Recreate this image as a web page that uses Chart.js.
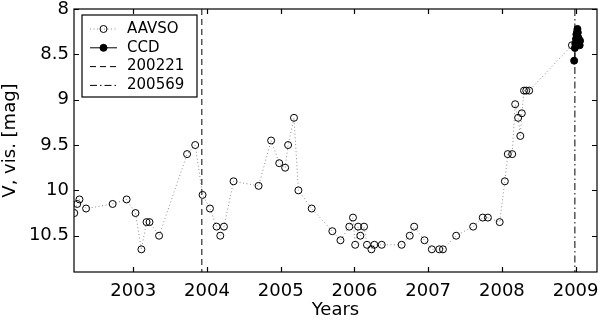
<!DOCTYPE html>
<html>
<head>
<meta charset="utf-8">
<script src="https://cdn.jsdelivr.net/npm/chart.js@4.4.1/dist/chart.umd.min.js"></script>
<style>
    html, body { margin: 0; padding: 0; background: #fff; }
    #wrap { width: 602px; height: 334px; }
</style>
</head>
<body>
<div id="wrap"><canvas id="lightcurve"></canvas></div>
<script>
// AAVSO visual estimates (years, V mag)
const aavsoYears = [2002.20, 2002.24, 2002.27, 2002.36, 2002.72, 2002.91, 2003.03, 2003.11, 2003.18, 2003.22, 2003.35, 2003.73, 2003.84, 2003.94,
    2004.04, 2004.13, 2004.18, 2004.23, 2004.36, 2004.70, 2004.87, 2004.98, 2005.06, 2005.10, 2005.18, 2005.24, 2005.42, 2005.70, 2005.81,
    2005.93, 2005.98, 2006.01, 2006.05, 2006.08, 2006.13, 2006.17, 2006.23, 2006.27, 2006.37, 2006.64, 2006.75, 2006.81, 2006.95,
    2007.05, 2007.15, 2007.20, 2007.38, 2007.61, 2007.74, 2007.81, 2007.97, 2008.04, 2008.08, 2008.14, 2008.18, 2008.22, 2008.25,
    2008.27, 2008.30, 2008.33, 2008.37, 2008.95];
const aavsoMags = [10.25, 10.15, 10.10, 10.20, 10.15, 10.10, 10.25, 10.65, 10.35, 10.35, 10.50, 9.60, 9.50, 10.05,
    10.20, 10.40, 10.50, 10.40, 9.90, 9.95, 9.45, 9.70, 9.75, 9.50, 9.20, 10.00, 10.20, 10.45, 10.55,
    10.40, 10.30, 10.60, 10.40, 10.50, 10.40, 10.60, 10.65, 10.60, 10.60, 10.60, 10.50, 10.40, 10.55,
    10.65, 10.65, 10.65, 10.50, 10.40, 10.30, 10.30, 10.35, 9.90, 9.60, 9.60, 9.05, 9.20, 9.40,
    9.15, 8.90, 8.90, 8.90, 8.40];

// CCD photometry at the end of 2008
const ccdYears = [2008.980, 2008.990, 2008.995, 2009.005, 2009.010, 2009.020, 2009.025, 2009.030, 2009.040, 2009.050, 2009.055, 2009.060];
const ccdMags = [8.57, 8.43, 8.38, 8.33, 8.28, 8.25, 8.22, 8.26, 8.32, 8.37, 8.40, 8.35];

// epochs of the spectra
const spectraEpochs = [2003.93, 2008.99];
const spectraLabels = ['200221', '200569'];

const xTicks = [2003, 2004, 2005, 2006, 2007, 2008, 2009];
const yTicks = [8, 8.5, 9, 9.5, 10, 10.5];
const xMin = 2002.196, xMax = 2009.29;
const yMin = 8, yMax = 10.9;

const FONT = 'DejaVu Sans';

function pairs(xs, ys) {
    return xs.map((x, i) => ({x: x, y: ys[i]}));
}

function epochLine(epoch) {
    return [{x: epoch, y: yMin}, {x: epoch, y: yMax}];
}

// inward ticks on all four sides + box
const frameTicks = {
    id: 'frameTicks',
    afterDatasetsDraw(chart) {
        const ctx = chart.ctx;
        const {left, right, top, bottom} = chart.chartArea;
        const {x, y} = chart.scales;
        const tl = 5;
        ctx.save();
        ctx.strokeStyle = '#000';
        ctx.lineWidth = 1.2;
        ctx.beginPath();
        x.ticks.forEach(t => {
            const px = Math.round(x.getPixelForValue(t.value)) + 0.5;
            ctx.moveTo(px, bottom); ctx.lineTo(px, bottom - tl);
            ctx.moveTo(px, top); ctx.lineTo(px, top + tl);
        });
        y.ticks.forEach(t => {
            const py = Math.round(y.getPixelForValue(t.value)) + 0.5;
            ctx.moveTo(left, py); ctx.lineTo(left + tl, py);
            ctx.moveTo(right, py); ctx.lineTo(right - tl, py);
        });
        ctx.stroke();
        ctx.strokeRect(left, top, right - left, bottom - top);
        ctx.restore();
    }
};

// matlab-like legend box with line samples
const lineLegend = {
    id: 'lineLegend',
    afterDraw(chart) {
        const ctx = chart.ctx;
        const bx = 82, by = 15, bw = 115, bh = 82;
        ctx.save();
        ctx.fillStyle = '#fff';
        ctx.fillRect(bx, by, bw, bh);
        ctx.strokeStyle = '#000';
        ctx.lineWidth = 1.2;
        ctx.strokeRect(bx, by, bw, bh);
        chart.data.datasets.forEach((ds, i) => {
            const yy = by + 14 + i * 18.8;
            ctx.save();
            ctx.strokeStyle = ds.borderColor;
            ctx.lineWidth = ds.borderWidth;
            ctx.setLineDash(ds.borderDash || []);
            ctx.beginPath();
            ctx.moveTo(bx + 8, yy);
            ctx.lineTo(bx + 35, yy);
            ctx.stroke();
            ctx.setLineDash([]);
            if (ds.pointRadius > 0) {
                ctx.beginPath();
                ctx.arc(bx + 21.5, yy, ds.pointRadius, 0, Math.PI * 2);
                ctx.fillStyle = ds.pointBackgroundColor;
                ctx.fill();
                ctx.strokeStyle = ds.pointBorderColor;
                ctx.lineWidth = ds.pointBorderWidth;
                ctx.stroke();
            }
            ctx.restore();
            ctx.fillStyle = '#000';
            ctx.font = '15px "' + FONT + '"';
            ctx.textBaseline = 'middle';
            ctx.textAlign = 'left';
            ctx.fillText(ds.label, bx + 45, yy);
        });
        ctx.restore();
    }
};

const ctx = document.getElementById('lightcurve').getContext('2d');
new Chart(ctx, {
    type: 'scatter',
    data: {
        datasets: [
            {
                label: 'AAVSO',
                data: pairs(aavsoYears, aavsoMags),
                showLine: true,
                borderColor: '#8a8a8a',
                borderWidth: 1,
                borderDash: [1, 2.5],
                pointRadius: 3.5,
                pointBorderColor: '#000',
                pointBackgroundColor: 'rgba(255,255,255,0)',
                pointBorderWidth: 1,
            },
            {
                label: 'CCD',
                data: pairs(ccdYears, ccdMags),
                showLine: true,
                borderColor: '#000',
                borderWidth: 1,
                pointRadius: 3.5,
                pointBorderColor: '#000',
                pointBackgroundColor: '#000',
                pointBorderWidth: 1,
            },
            {
                label: spectraLabels[0],
                data: epochLine(spectraEpochs[0]),
                showLine: true,
                borderColor: '#000',
                borderWidth: 1,
                borderDash: [6, 4],
                pointRadius: 0,
            },
            {
                label: spectraLabels[1],
                data: epochLine(spectraEpochs[1]),
                showLine: true,
                borderColor: '#000',
                borderWidth: 1,
                borderDash: [7, 3, 1.5, 3],
                pointRadius: 0,
            }
        ]
    },
    options: {
        responsive: true,
        maintainAspectRatio: false,
        animation: false,
        layout: {padding: {top: 9, right: 2, bottom: 0, left: 0}},
        plugins: {
            legend: {display: false},
            tooltip: {enabled: false}
        },
        scales: {
            x: {
                type: 'linear',
                min: xMin,
                max: xMax,
                grid: {display: false, drawTicks: false},
                border: {display: false},
                afterBuildTicks: (scale) => { scale.ticks = xTicks.map(v => ({value: v})); },
                afterFit: (scale) => {
                    scale.height = 62;
                    scale.paddingLeft = 0;
                    scale.paddingRight = 0;
                },
                ticks: {
                    color: '#000',
                    font: {family: FONT, size: 18},
                    padding: 9,
                    maxRotation: 0,
                    callback: (v) => String(v)
                },
                title: {
                    display: true,
                    text: 'Years',
                    color: '#000',
                    font: {family: FONT, size: 18},
                    padding: {top: 0, bottom: 13}
                }
            },
            y: {
                type: 'linear',
                reverse: true,
                min: yMin,
                max: yMax,
                grid: {display: false, drawTicks: false},
                border: {display: false},
                afterBuildTicks: (scale) => { scale.ticks = yTicks.map(v => ({value: v})); },
                afterFit: (scale) => {
                    scale.width = 74;
                    scale.paddingTop = 0;
                    scale.paddingBottom = 0;
                },
                ticks: {
                    color: '#000',
                    font: {family: FONT, size: 18},
                    padding: 5,
                    callback: (v) => String(v)
                },
                title: {
                    display: true,
                    text: 'V, vis. [mag]',
                    color: '#000',
                    font: {family: FONT, size: 18},
                    padding: {top: 0, bottom: 0}
                }
            }
        }
    },
    plugins: [frameTicks, lineLegend]
});
</script>
</body>
</html>
